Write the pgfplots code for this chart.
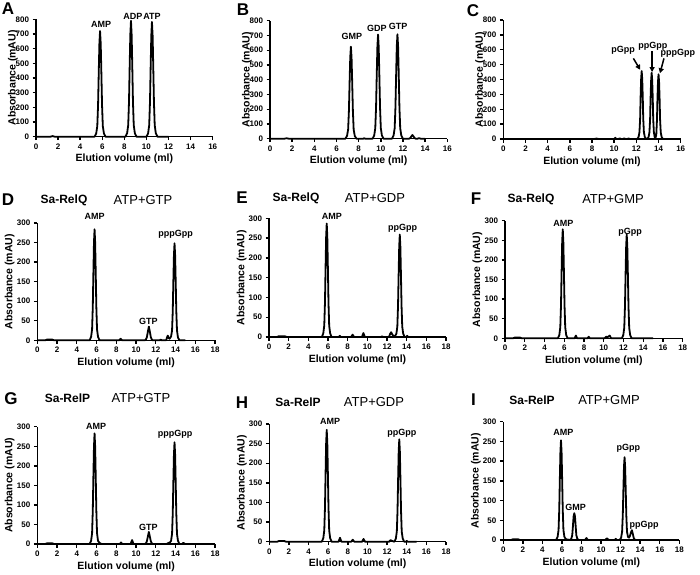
\documentclass[border=0pt]{standalone}
\usepackage{fontspec}
\setmainfont{Liberation Sans}
\usepackage{pgfplots}
\pgfplotsset{compat=1.18}
\usetikzlibrary{arrows.meta}

\newcommand\pk{\bfseries\fontsize{9}{10}\selectfont}
\newcommand\letterfont{\bfseries\fontsize{17}{18}\selectfont}
\newcommand\enzfont{\bfseries\fontsize{12}{13}\selectfont}
\newcommand\subfont{\fontsize{13}{14}\selectfont}

\pgfplotsset{
  chrom/.style={
    scale only axis, clip=false, anchor=south west,
    axis x line*=bottom, axis y line*=left,
    axis line style={line width=1.4pt,-},
    tick align=outside, major tick length=3.5pt,
    major tick style={line width=1.4pt,black},
    xmin=0, ymin=0,
    ticklabel style={font=\bfseries\fontsize{8}{9}\selectfont},
    /pgf/number format/assume math mode=true,
    label style={font=\bfseries\fontsize{10.5}{11}\selectfont},
    xlabel={Elution volume (ml)},
    ylabel={Absorbance (mAU)},
    xlabel style={at={(axis description cs:0.5,-0.19)},anchor=center},
    cycle list={{black, mark=none}},
    every axis plot post/.append style={line width=1.8pt, line join=round},
  },
  top/.style={chrom, xmax=16, ymax=800, xtick={0,2,...,16}, ytick={0,100,...,800},
    ylabel style={at={(axis description cs:-0.13,0.5)},anchor=center}},
  low/.style={chrom, xmax=18, ymax=300, xtick={0,2,...,18}, ytick={0,50,...,300},
    ylabel style={at={(axis description cs:-0.155,0.5)},anchor=center}},
}

\begin{document}
\begin{tikzpicture}
\path[use as bounding box] (0,0) rectangle (700pt,574pt);

% ---------------- A: nucleotide standards
\begin{axis}[top, at={(36pt,437.3pt)}, width=176.7pt, height=117.4pt]
\addplot coordinates {(0,0) (1.3,0) (1.5,4) (1.7,0)
 (5.3,0) (5.45,22) (5.55,72) (5.62,216) (5.68,432) (5.74,634) (5.8,720) (5.86,634) (5.92,432) (5.98,216) (6.05,72) (6.15,22) (6.3,0)
 (8.1,0) (8.25,24) (8.35,79) (8.42,237) (8.48,474) (8.54,695) (8.6,790) (8.66,695) (8.72,474) (8.78,237) (8.85,79) (8.95,24) (9.1,0)
 (10.0,0) (10.15,23) (10.25,78) (10.32,235) (10.38,469) (10.44,688) (10.5,782) (10.56,688) (10.62,469) (10.68,235) (10.75,78) (10.85,23) (11.0,0) (12,0)};
\node[font=\pk] at (axis cs:5.9,768) {AMP};
\node[font=\pk] at (axis cs:8.77,822) {ADP};
\node[font=\pk] at (axis cs:10.5,822) {ATP};
\end{axis}

% ---------------- B
\begin{axis}[top, at={(270pt,435.3pt)}, width=177.3pt, height=118pt]
\addplot coordinates {(0,0) (1.3,0) (1.5,3) (1.7,0)
 (6.8,0) (6.95,19) (7.05,62) (7.12,187) (7.18,374) (7.24,549) (7.3,624) (7.36,549) (7.42,374) (7.48,187) (7.55,62) (7.65,19) (7.8,0)
 (8.4,0) (8.5,3) (8.6,0)
 (9.25,0) (9.4,21) (9.5,71) (9.57,212) (9.63,424) (9.69,621) (9.75,706) (9.81,621) (9.87,424) (9.93,212) (10.0,71) (10.1,21) (10.25,0)
 (11.0,0) (11.15,21) (11.25,71) (11.32,212) (11.38,425) (11.44,623) (11.5,708) (11.56,623) (11.62,425) (11.68,212) (11.75,71) (11.85,21) (12.0,0)
 (12.55,0) (12.65,4) (12.75,15) (12.85,25) (12.95,15) (13.05,4) (13.15,0)
 (13.3,0) (13.45,4) (13.6,0) (14,0)};
\node[font=\pk] at (axis cs:7.38,694) {GMP};
\node[font=\pk] at (axis cs:9.64,748) {GDP};
\node[font=\pk] at (axis cs:11.57,761) {GTP};
\end{axis}

% ---------------- C
\begin{axis}[top, at={(503.3pt,435pt)}, width=177.4pt, height=119pt]
\addplot coordinates {(0,0) (8.2,0) (8.4,3) (8.6,0) (10.0,0) (10.1,8) (10.2,0) (10.4,0) (10.5,5) (10.6,0)
 (10.8,0) (10.9,5) (11.0,0) (11.2,0) (11.3,4) (11.4,0) (11.6,0)
 (12.08,0) (12.2,14) (12.28,46) (12.34,137) (12.38,274) (12.43,402) (12.48,457) (12.53,402) (12.58,274) (12.62,137) (12.68,46) (12.76,14) (12.88,0)
 (12.98,0) (13.1,13) (13.18,45) (13.24,134) (13.28,267) (13.33,392) (13.38,445) (13.43,392) (13.48,267) (13.52,134) (13.58,45) (13.66,10) (13.72,5)
 (13.8,30) (13.86,131) (13.9,261) (13.95,383) (14.0,435) (14.05,383) (14.1,261) (14.14,131) (14.2,44) (14.28,13) (14.4,0) (14.6,0)};
\node[font=\pk] at (axis cs:10.8,594) {pGpp};
\node[font=\pk] at (axis cs:13.5,625) {ppGpp};
\node[font=\pk] at (axis cs:15.75,576) {pppGpp};
\draw[line width=1.5pt,-{Triangle[length=5pt,width=5pt]}] (axis cs:11.73,542) -- (axis cs:12.35,465);
\draw[line width=1.5pt,-{Triangle[length=5pt,width=5pt]}] (axis cs:13.42,590) -- (axis cs:13.42,450);
\draw[line width=1.5pt,-{Triangle[length=5pt,width=5pt]}] (axis cs:14.49,542) -- (axis cs:14.13,442);
\end{axis}

% ---------------- D
\begin{axis}[low, at={(37.3pt,233.7pt)}, width=177.7pt, height=117.3pt]
\addplot coordinates {(0,0) (0.8,0) (1.0,2) (1.5,2) (1.7,0)
 (5.3,0) (5.45,9) (5.55,28) (5.62,85) (5.68,170) (5.74,250) (5.8,284) (5.86,250) (5.92,170) (5.98,85) (6.05,28) (6.15,9) (6.3,0)
 (8.3,0) (8.45,4) (8.6,0)
 (10.9,0) (11.0,2) (11.1,8) (11.2,22) (11.3,35) (11.4,22) (11.5,8) (11.6,2) (11.7,0)
 (12.4,0) (12.5,2) (12.6,0)
 (13.05,0) (13.15,8) (13.22,12) (13.3,6) (13.4,4) (13.55,10) (13.65,25) (13.72,74) (13.78,149) (13.84,218) (13.9,248) (13.96,218) (14.02,149) (14.08,74) (14.15,25) (14.25,7) (14.4,0) (15,0)};
\node[font=\pk] at (axis cs:5.8,316) {AMP};
\node[font=\pk] at (axis cs:11.25,49) {GTP};
\node[font=\pk] at (axis cs:14.0,271) {pppGpp};
\end{axis}

% ---------------- E
\begin{axis}[low, at={(269pt,237pt)}, width=177pt, height=118.7pt]
\addplot coordinates {(0,0) (0.8,0) (1.0,2) (1.6,2) (1.8,0)
 (5.37,0) (5.52,9) (5.62,29) (5.69,86) (5.75,172) (5.81,253) (5.87,287) (5.93,253) (5.99,172) (6.05,86) (6.12,29) (6.22,9) (6.37,0)
 (7.1,0) (7.2,3) (7.3,0) (8.35,0) (8.5,6) (8.65,0) (9.45,0) (9.6,10) (9.75,0) (11.4,0) (11.5,2) (11.6,0)
 (12.2,0) (12.32,8) (12.42,12) (12.52,7) (12.65,3)
 (12.8,2) (12.95,8) (13.05,26) (13.12,78) (13.18,155) (13.24,228) (13.3,259) (13.36,228) (13.42,155) (13.48,78) (13.55,26) (13.65,8) (13.8,0)
 (13.95,0) (14.05,3) (14.15,0) (15,0)};
\node[font=\pk] at (axis cs:6.4,305) {AMP};
\node[font=\pk] at (axis cs:13.6,275) {ppGpp};
\end{axis}

% ---------------- F
\begin{axis}[low, at={(505pt,235.7pt)}, width=177.7pt, height=117.6pt]
\addplot coordinates {(0,0) (0.8,0) (1.0,2) (1.5,2) (1.7,0)
 (5.35,0) (5.5,8) (5.6,28) (5.67,83) (5.73,167) (5.79,245) (5.85,278) (5.91,245) (5.97,167) (6.03,83) (6.1,28) (6.2,8) (6.35,0)
 (7.05,0) (7.18,7) (7.3,0) (8.35,0) (8.48,4) (8.6,0)
 (10.1,0) (10.25,4) (10.4,3) (10.6,7) (10.75,0)
 (11.83,0) (11.98,8) (12.08,27) (12.15,80) (12.21,159) (12.27,233) (12.33,265) (12.39,233) (12.45,159) (12.51,80) (12.58,27) (12.68,8) (12.83,0) (15,0)};
\node[font=\pk] at (axis cs:5.9,293) {AMP};
\node[font=\pk] at (axis cs:12.68,270) {pGpp};
\end{axis}

% ---------------- G
\begin{axis}[low, at={(37.3pt,30pt)}, width=177.7pt, height=117.3pt]
\addplot coordinates {(0,0) (0.8,0) (1.0,2) (1.5,2) (1.7,0)
 (5.3,0) (5.45,8) (5.55,28) (5.62,85) (5.68,170) (5.74,249) (5.8,283) (5.86,249) (5.92,170) (5.98,85) (6.05,28) (6.15,8) (6.3,3) (6.5,0)
 (8.35,0) (8.48,4) (8.6,0) (9.45,0) (9.6,10) (9.75,0)
 (10.9,0) (11.0,2) (11.1,7) (11.2,19) (11.3,31) (11.4,19) (11.5,7) (11.6,2) (11.7,0)
 (13.1,0) (13.3,3) (13.4,3) (13.55,8) (13.65,26) (13.72,78) (13.78,156) (13.84,229) (13.9,260) (13.96,229) (14.02,156) (14.08,78) (14.15,26) (14.25,8) (14.4,0)
 (14.65,0) (14.8,3) (14.95,0) (15.5,0)};
\node[font=\pk] at (axis cs:5.95,302) {AMP};
\node[font=\pk] at (axis cs:11.25,42) {GTP};
\node[font=\pk] at (axis cs:13.95,280) {pppGpp};
\end{axis}

% ---------------- H
\begin{axis}[low, at={(269.3pt,32.3pt)}, width=176.7pt, height=117.7pt]
\addplot coordinates {(0,0) (0.8,0) (1.0,2) (1.5,2) (1.7,0)
 (5.35,0) (5.5,9) (5.6,29) (5.67,86) (5.73,171) (5.79,251) (5.85,285) (5.91,251) (5.97,171) (6.03,86) (6.1,29) (6.2,9) (6.35,0)
 (7.05,0) (7.2,10) (7.35,0) (8.35,0) (8.5,5) (8.65,0) (9.45,0) (9.6,7) (9.75,0)
 (12.2,0) (12.35,4) (12.5,2)
 (12.74,0) (12.89,8) (12.99,26) (13.06,78) (13.12,157) (13.18,230) (13.24,261) (13.3,230) (13.36,157) (13.42,78) (13.49,26) (13.59,8) (13.74,0)
 (13.9,0) (14.0,2) (14.1,0) (15,0)};
\node[font=\pk] at (axis cs:6.2,306) {AMP};
\node[font=\pk] at (axis cs:13.5,276) {ppGpp};
\end{axis}

% ---------------- I
\begin{axis}[low, at={(503.3pt,34pt)}, width=176pt, height=118.3pt]
\addplot coordinates {(0,0) (0.8,0) (1.0,2) (1.5,2) (1.7,0)
 (5.4,0) (5.55,8) (5.65,25) (5.72,76) (5.78,152) (5.84,223) (5.9,253) (5.96,223) (6.02,152) (6.08,76) (6.15,25) (6.25,8) (6.4,2)
 (6.85,0) (6.95,3) (7.05,12) (7.12,35) (7.19,60) (7.26,68) (7.33,60) (7.4,35) (7.47,12) (7.57,3) (7.7,0)
 (8.35,0) (8.5,5) (8.65,0) (10.4,0) (10.6,4) (10.8,0) (11.4,0) (11.5,3) (11.6,0)
 (11.9,0) (12.05,6) (12.15,21) (12.22,63) (12.28,126) (12.34,185) (12.4,210) (12.46,185) (12.52,126) (12.58,63) (12.65,21) (12.75,8)
 (12.85,6) (12.95,10) (13.05,19) (13.15,25) (13.25,15) (13.35,4) (13.5,0) (15,0)};
\node[font=\pk] at (axis cs:6.14,272) {AMP};
\node[font=\pk] at (axis cs:7.4,82) {GMP};
\node[font=\pk] at (axis cs:12.78,232) {pGpp};
\node[font=\pk] at (axis cs:14.4,38) {ppGpp};
\end{axis}

% ---------------- panel letters and titles
\node[font=\letterfont] at (8pt,565pt) {A};
\node[font=\letterfont] at (243pt,564pt) {B};
\node[font=\letterfont] at (473pt,563pt) {C};
\node[font=\letterfont] at (8pt,374pt) {D};
\node[font=\enzfont] at (64pt,374pt) {Sa-RelQ};
\node[font=\subfont] at (143pt,374pt) {ATP+GTP};
\node[font=\letterfont] at (242pt,376pt) {E};
\node[font=\enzfont] at (296pt,376pt) {Sa-RelQ};
\node[font=\subfont] at (375pt,376pt) {ATP+GDP};
\node[font=\letterfont] at (476pt,375pt) {F};
\node[font=\enzfont] at (531pt,375pt) {Sa-RelQ};
\node[font=\subfont] at (613pt,375pt) {ATP+GMP};
\node[font=\letterfont] at (11pt,175.5pt) {G};
\node[font=\enzfont] at (67.5pt,175.5pt) {Sa-RelP};
\node[font=\subfont] at (141pt,175.5pt) {ATP+GTP};
\node[font=\letterfont] at (242pt,171.5pt) {H};
\node[font=\enzfont] at (298pt,171.5pt) {Sa-RelP};
\node[font=\subfont] at (374pt,171.5pt) {ATP+GDP};
\node[font=\letterfont] at (473.5pt,174pt) {I};
\node[font=\enzfont] at (532pt,174pt) {Sa-RelP};
\node[font=\subfont] at (609pt,174pt) {ATP+GMP};
\end{tikzpicture}
\end{document}
